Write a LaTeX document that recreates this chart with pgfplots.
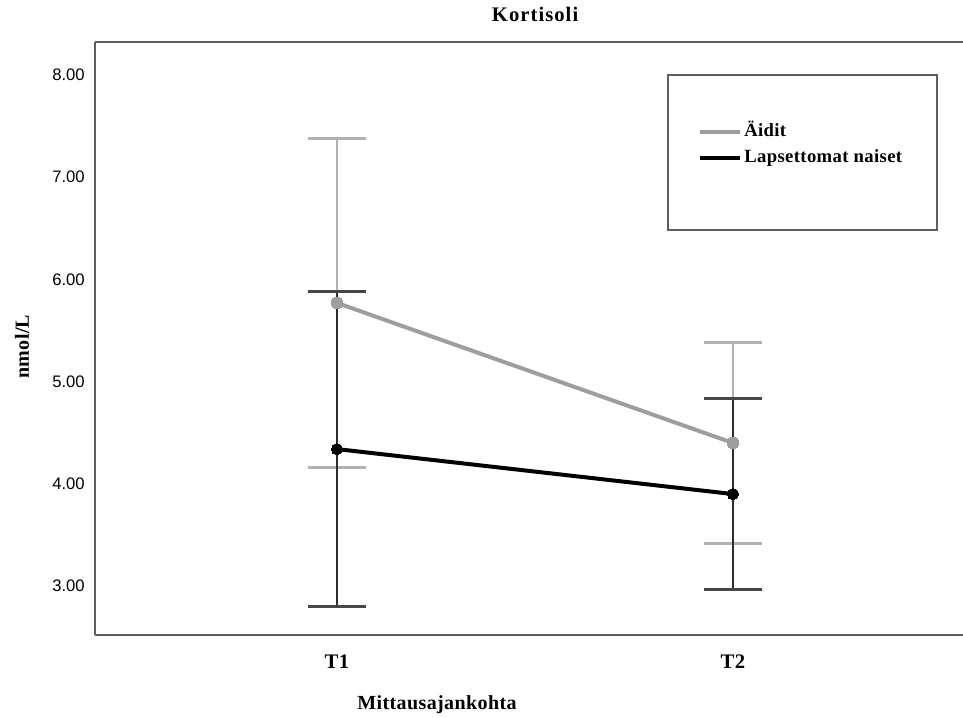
\documentclass[border=0pt]{standalone}
\usepackage{pgfplots}
\pgfplotsset{compat=1.18}
\usepackage{fontspec}
\setmainfont{Liberation Serif}
\newfontfamily\labfont[LetterSpace=2]{Liberation Serif}
\newfontfamily\titfont[LetterSpace=5]{Liberation Serif}
\newfontfamily\tickfont{Liberation Sans}
\definecolor{gline}{RGB}{158,158,158}
\definecolor{gbar}{RGB}{178,178,178}
\definecolor{kbar}{RGB}{45,45,45}
\definecolor{kcap}{RGB}{70,70,70}
\definecolor{axcol}{RGB}{95,95,95}
\begin{document}
\begin{tikzpicture}
\useasboundingbox (-71.25pt,-61.5pt) rectangle (651pt,476.25pt);
\begin{axis}[
  scale only axis, width=651pt, height=444.75pt,
  xmin=0.389, xmax=2.581, ymin=2.521, ymax=8.323,
  axis y line*=left, axis x line*=box,
  axis line style={-, axcol, line width=1.5pt},
  xtick={1,2}, xticklabels={T1,T2},
  ytick={3,4,5,6,7,8},
  major tick length=0pt,
  /pgf/number format/fixed, /pgf/number format/fixed zerofill,
  /pgf/number format/precision=2, /pgf/number format/assume math mode=true,
  yticklabel style={font=\tickfont\fontsize{12.5}{14}\selectfont, anchor=east, inner sep=0pt, xshift=-7.5pt},
  xticklabel style={font=\labfont\bfseries\fontsize{15.5}{17}\selectfont, anchor=center, inner sep=0pt, yshift=-20.25pt},
  title={Kortisoli},
  title style={font=\titfont\bfseries\fontsize{15.5}{17}\selectfont, at={(axis description cs:0.507,1.0337)}, anchor=center},
  xlabel={Mittausajankohta},
  xlabel style={font=\labfont\bfseries\fontsize{15}{17}\selectfont, at={(axis description cs:0.394,-0.118)}, anchor=center},
  ylabel={nmol/L},
  ylabel style={font=\labfont\bfseries\fontsize{15}{17}\selectfont, at={(axis description cs:-0.0841,0.486)}, anchor=center, rotate=0},
  legend cell align=left,
  legend style={draw=none, fill=none, at={(rel axis cs:0.6947,0.826)}, anchor=west, inner sep=0pt,
    row sep=6pt, column sep=0pt,
    font=\labfont\bfseries\fontsize{14}{16}\selectfont,
    nodes={inner sep=0pt, inner xsep=1.5pt, text height=10pt, text depth=3.5pt}},
  legend image code/.code={\draw[#1] (0pt,0pt) -- (30pt,0pt);},
]
\addplot[gline, line width=3pt, mark=*, mark size=4.4pt, mark options={gline, fill=gline, line width=0pt},
  error bars/.cd, y dir=both, y explicit,
  error bar style={gbar, line width=1.1pt},
  error mark options={rotate=90, gbar, line width=2.2pt, mark size=21.75pt}]
  coordinates {(1,5.77) +- (0,1.61) (2,4.40) +- (0,0.985)};
\addlegendentry{Äidit}
\addplot[black, line width=3pt, mark=*, mark size=4.2pt, mark options={black, fill=black, line width=0pt},
  error bars/.cd, y dir=both, y explicit,
  error bar style={kbar, line width=1.1pt},
  error mark options={rotate=90, kcap, line width=2.2pt, mark size=21.75pt}]
  coordinates {(1,4.34) +- (0,1.54) (2,3.90) +- (0,0.935)};
\addlegendentry{Lapsettomat naiset}
\draw[axcol, line width=1.2pt] (rel axis cs:0.6601,0.9444) rectangle (rel axis cs:0.970,0.683);
\end{axis}
\end{tikzpicture}
\end{document}
